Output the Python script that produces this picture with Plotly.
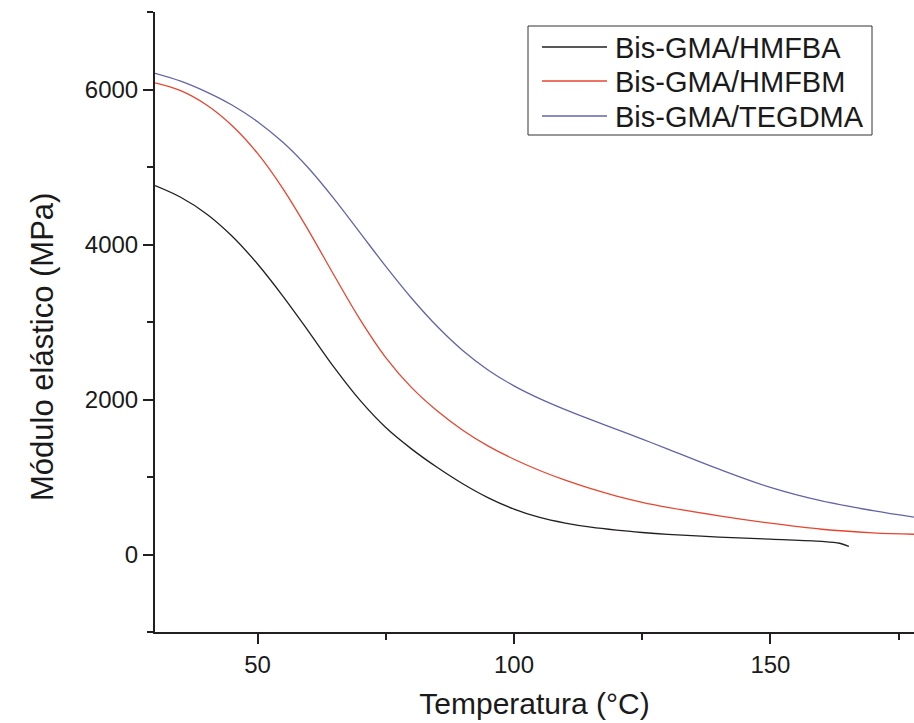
import plotly.graph_objects as go

# Temperature (°C) and elastic modulus (MPa)
temp_hmfba = [30, 35, 40, 45, 50, 55, 60, 65, 70, 75, 80, 85, 90, 95, 100, 105, 110, 115, 120,
              125, 130, 140, 150, 160, 163.5, 165.3]
mod_hmfba = [4760, 4610, 4398, 4110, 3748, 3328, 2873, 2408, 1988, 1638, 1363, 1125, 913, 731, 586,
             478, 405, 352, 314, 284, 260, 225, 198, 170, 145, 105]

temp_hmfbm = [30, 35, 40, 45, 50, 55, 60, 65, 70, 75, 80, 85, 90, 95, 100, 105, 110, 115, 120,
              125, 130, 140, 150, 160, 170, 178]
mod_hmfbm = [6085, 5985, 5803, 5535, 5175, 4715, 4173, 3593, 3031, 2541, 2156, 1854, 1604, 1399,
             1229, 1084, 959, 849, 754, 674, 609, 499, 404, 326, 280, 261]

temp_tegdma = [30, 35, 40, 45, 50, 55, 60, 65, 70, 75, 80, 85, 90, 95, 100, 105, 110, 115, 120,
               125, 130, 140, 150, 160, 170, 178]
mod_tegdma = [6208, 6108, 5970, 5800, 5585, 5315, 4980, 4582, 4150, 3718, 3310, 2945, 2633, 2378,
              2176, 2011, 1869, 1739, 1614, 1489, 1361, 1101, 866, 691, 566, 482]

series_names = ["Bis-GMA/HMFBA", "Bis-GMA/HMFBM", "Bis-GMA/TEGDMA"]
series_colors = ["#231f20", "#e8452f", "#6264a7"]

x_ticks = [50, 100, 150]
y_ticks = [0, 2000, 4000, 6000]

W, H = 914, 723
ML, MR, MT, MB = 155, 0, 12, 91
PW, PH = W - ML - MR, H - MT - MB


def px_x(p):
    return (p - ML) / PW


def px_y(p):
    return (H - MB - p) / PH


fig = go.Figure()
for name, color, xs, ys in zip(series_names, series_colors,
                               [temp_hmfba, temp_hmfbm, temp_tegdma],
                               [mod_hmfba, mod_hmfbm, mod_tegdma]):
    fig.add_trace(go.Scatter(x=xs, y=ys, mode="lines", name=name, showlegend=False,
                             line=dict(color=color, width=1.3, shape="spline", smoothing=1.0)))

axis_color = "#231f20"
font_family = "Liberation Sans, Arial, sans-serif"
text_color = "#1a1a1a"

# Legend drawn in paper coordinates
shapes = [dict(type="rect", xref="paper", yref="paper",
               x0=px_x(528), x1=px_x(872), y0=px_y(135), y1=px_y(26),
               line=dict(color="#333333", width=1), fillcolor="white", layer="above")]
annotations = []
row_y = [47, 81, 116]
for name, color, ry in zip(series_names, series_colors, row_y):
    shapes.append(dict(type="line", xref="paper", yref="paper",
                       x0=px_x(542), x1=px_x(607), y0=px_y(ry), y1=px_y(ry),
                       line=dict(color=color, width=1.3), layer="above"))
    annotations.append(dict(xref="paper", yref="paper", x=px_x(613), y=px_y(ry + 1),
                            xanchor="left", yanchor="middle", showarrow=False, text=name,
                            font=dict(size=29, family=font_family, color=text_color)))

annotations.append(dict(xref="paper", yref="paper", x=px_x(42), y=px_y(347),
                        xanchor="center", yanchor="middle", showarrow=False, textangle=-90,
                        text="Módulo elástico (MPa)",
                        font=dict(size=31, family=font_family, color=text_color)))

fig.update_layout(
    width=W, height=H,
    margin=dict(l=ML, r=MR, t=MT, b=MB),
    paper_bgcolor="white", plot_bgcolor="white",
    font=dict(family=font_family, color=text_color),
    showlegend=False,
    shapes=shapes,
    annotations=annotations,
    xaxis=dict(range=[30, 178], tickvals=x_ticks, ticks="outside", ticklen=10, tickwidth=2,
               tickcolor=axis_color, showline=True, linewidth=2, linecolor=axis_color,
               showgrid=False, zeroline=False, tickfont=dict(size=24),
               minor=dict(dtick=25, tick0=0, ticks="outside", ticklen=6, tickwidth=2,
                          tickcolor=axis_color, showgrid=False),
               title=dict(text="Temperatura (°C)", font=dict(size=30), standoff=16)),
    yaxis=dict(range=[-1000, 7000], tickvals=y_ticks, ticks="outside", ticklen=10, tickwidth=2,
               tickcolor=axis_color, showline=True, linewidth=2, linecolor=axis_color,
               showgrid=False, zeroline=False, tickfont=dict(size=24),
               minor=dict(dtick=1000, tick0=0, ticks="outside", ticklen=6, tickwidth=2,
                          tickcolor=axis_color, showgrid=False)),
)

fig.write_html("out.html")
